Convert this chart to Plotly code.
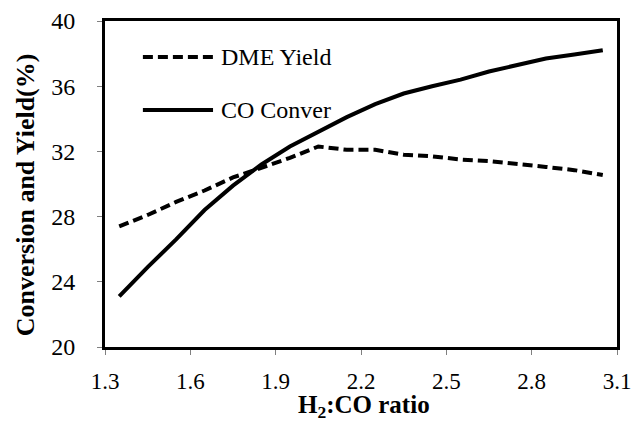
import plotly.graph_objects as go

h2_co_ratio = [1.35, 1.45, 1.55, 1.65, 1.75, 1.85, 1.95, 2.05, 2.15, 2.25,
               2.35, 2.45, 2.55, 2.65, 2.75, 2.85, 2.95, 3.05]
dme_yield = [27.4, 28.1, 28.9, 29.6, 30.4, 31.0, 31.6, 32.3, 32.1, 32.1,
             31.8, 31.7, 31.5, 31.4, 31.25, 31.05, 30.85, 30.55]
co_conversion = [23.1, 24.9, 26.6, 28.4, 29.9, 31.2, 32.3, 33.2, 34.1, 34.9,
                 35.55, 36.0, 36.4, 36.9, 37.3, 37.7, 37.95, 38.2]
x_ticks = [1.3, 1.6, 1.9, 2.2, 2.5, 2.8, 3.1]
y_ticks = [20, 24, 28, 32, 36, 40]
series_names = ["DME Yield", "CO Conver"]
x_title = "H<sub>2</sub>:CO ratio"
y_title = "Conversion and Yield(%)"

FONT = "Liberation Serif, Times New Roman, serif"

fig = go.Figure()
fig.add_trace(go.Scatter(x=h2_co_ratio, y=dme_yield, mode="lines", name=series_names[0],
                         line=dict(color="black", width=4, dash="10px,5px"), showlegend=False))
fig.add_trace(go.Scatter(x=h2_co_ratio, y=co_conversion, mode="lines", name=series_names[1],
                         line=dict(color="black", width=4), showlegend=False))

# legend drawn manually (long line samples as in reference)
legend_rows = [(0.8896, "10px,5px", series_names[0]), (0.727, "solid", series_names[1])]
for yy, dash, label in legend_rows:
    fig.add_shape(type="line", xref="paper", yref="paper", x0=0.074, x1=0.211, y0=yy, y1=yy,
                  line=dict(color="black", width=4, dash=dash))
    fig.add_annotation(xref="paper", yref="paper", x=0.222, y=yy, text=label, showarrow=False,
                       xanchor="left", yanchor="middle", font=dict(family=FONT, size=24, color="black"))

# axis titles
fig.add_annotation(xref="paper", yref="paper", x=0.506, y=-0.181, text=x_title, showarrow=False,
                   xanchor="center", yanchor="middle",
                   font=dict(family=FONT, size=25, color="black", weight="bold"))
fig.add_annotation(xref="paper", yref="paper", x=-0.156, y=0.466, text=y_title, showarrow=False,
                   textangle=-90, xanchor="center", yanchor="middle",
                   font=dict(family=FONT, size=26, color="black", weight="bold"))

axis_common = dict(showline=True, linewidth=3, linecolor="black", mirror=True,
                   ticks="outside", ticklen=5, tickwidth=1, tickcolor="#808080",
                   showgrid=False, zeroline=False, automargin=False)

fig.update_xaxes(range=[1.3, 3.1], tickvals=x_ticks, ticktext=[f"{v:.1f}" for v in x_ticks],
                 ticklabelstandoff=6, ticklabeloverflow="allow",
                 tickfont=dict(family=FONT, size=23, color="black"), **axis_common)
fig.update_yaxes(range=[20, 40], tickvals=y_ticks, ticktext=[str(v) for v in y_ticks],
                 ticklabelstandoff=17, ticklabeloverflow="allow",
                 tickfont=dict(family=FONT, size=24, color="black"), **axis_common)

fig.update_layout(width=631, height=421, margin=dict(l=105, r=14, t=21, b=74),
                  paper_bgcolor="white", plot_bgcolor="white")

# remove the default 8px page margin so the figure fills the window exactly
fig.write_html("out.html", config={"displayModeBar": False},
               post_script="document.body.style.margin='0';document.body.style.overflow='hidden';")
